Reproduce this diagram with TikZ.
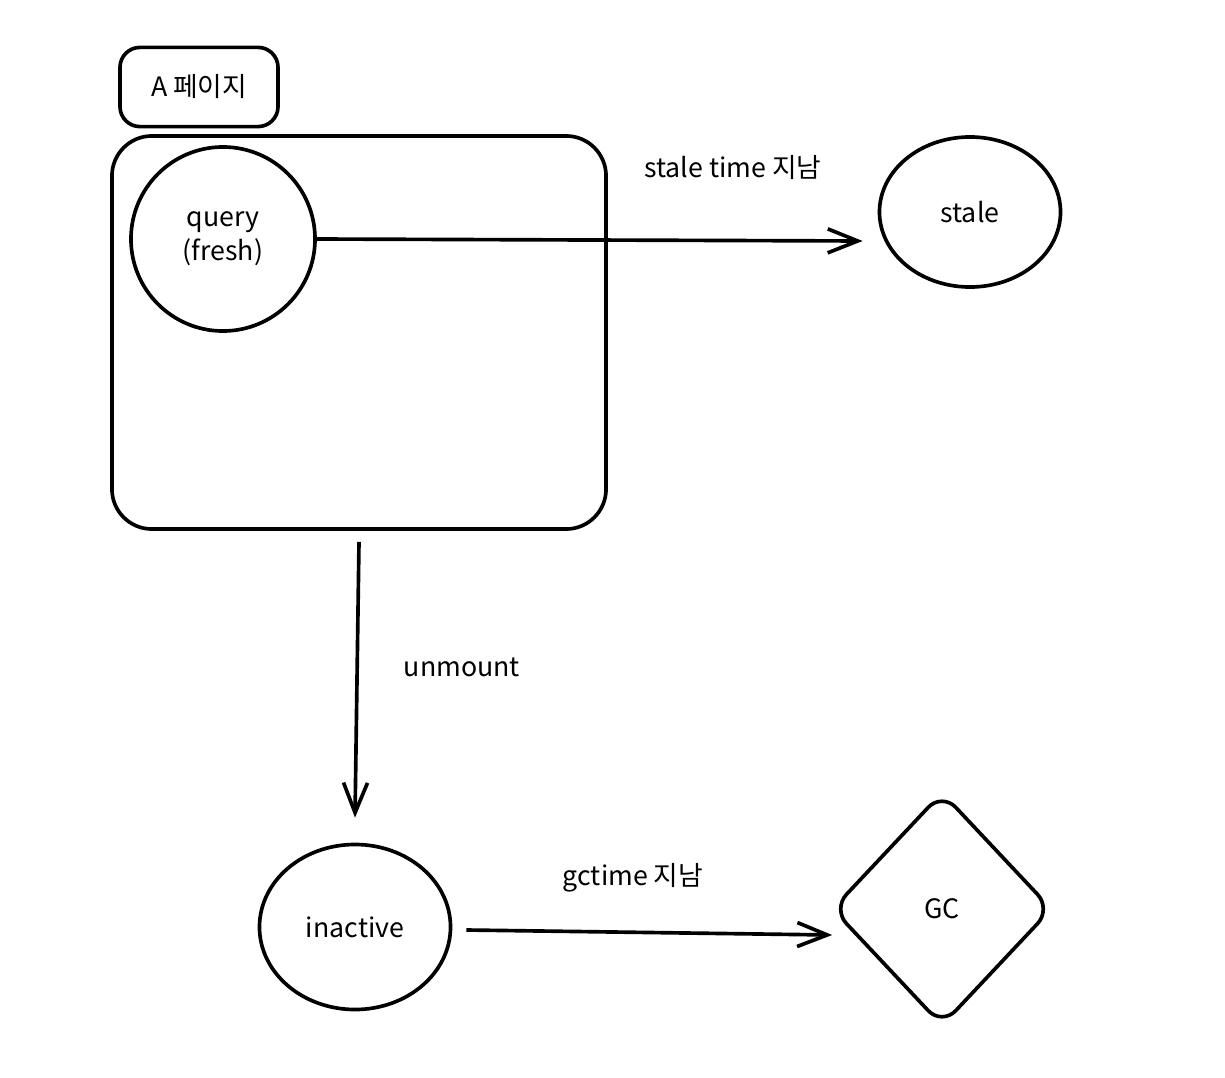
\documentclass[tikz,border=0pt]{standalone}
\usepackage{fontspec}
\setmainfont{Noto Sans CJK KR}
\usetikzlibrary{arrows.meta,shapes.geometric}
\begin{document}
\begin{tikzpicture}[x=0.025cm,y=-0.025cm,line width=2.6pt,
  every node/.style={font=\fontsize{19}{24}\selectfont},
  shp/.style={draw,inner sep=0pt,align=center},
  lbl/.style={inner sep=0pt},
  arr/.style={-{Straight Barb[length=0.75cm,width=0.6cm,line width=2.6pt]}}]
\useasboundingbox (0,0) rectangle (1225,1078);
\node[shp,rounded corners=0.5cm,minimum width=3.95cm,minimum height=1.98cm] (page) at (199,87) {A 페이지};
\node[shp,rounded corners=1cm,minimum width=12.35cm,minimum height=9.825cm] (big) at (359,332.5) {};
\node[shp,circle,minimum size=4.6cm] (query) at (223,239) {query\\(fresh)};
\node[shp,ellipse,minimum width=4.525cm,minimum height=3.75cm] (stale) at (970,212) {stale};
\node[shp,ellipse,minimum width=4.775cm,minimum height=4.125cm] (inactive) at (355,927) {inactive};
\node[shp,diamond,rounded corners=0.5cm,minimum width=5.5cm,minimum height=5.85cm] (gc) at (942,909) {GC};
\draw[arr] (query.east) -- ([xshift=-0.375cm,yshift=-0.05cm]query.east -| stale.west);
\draw[arr] ([yshift=-0.275cm]big.south) -- ([yshift=0.625cm]inactive.north);
\draw[arr] ([xshift=0.35cm,yshift=-0.075cm]inactive.east) -- ([xshift=0.05cm,yshift=-0.65cm]gc.west);
\node[lbl] (l1) at (733,167) {stale time 지남};
\node[lbl] (l2) at (462,667) {unmount};
\node[lbl] (l3) at (633,878) {gctime 지남};
\end{tikzpicture}
\end{document}
